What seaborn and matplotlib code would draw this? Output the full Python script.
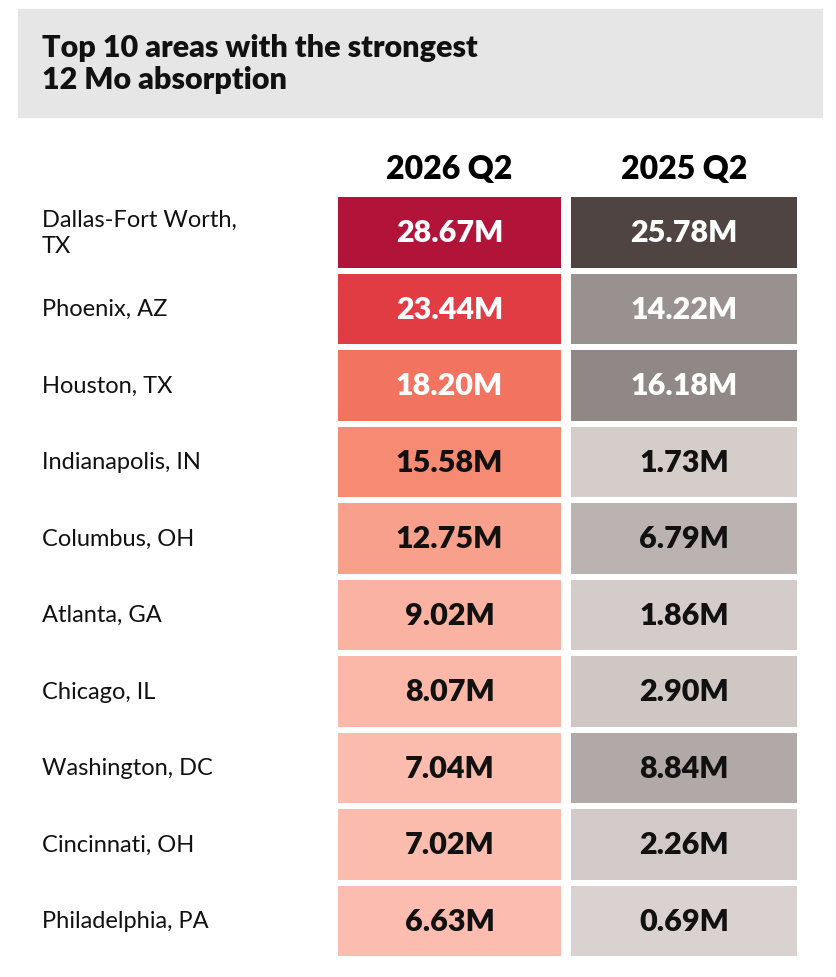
import numpy as np
import pandas as pd
import seaborn as sns
import matplotlib.pyplot as plt
from matplotlib.colors import LinearSegmentedColormap
from matplotlib.patches import Rectangle
from matplotlib.transforms import blended_transform_factory

areas = ["Dallas-Fort Worth,\nTX", "Phoenix, AZ", "Houston, TX", "Indianapolis, IN", "Columbus, OH",
         "Atlanta, GA", "Chicago, IL", "Washington, DC", "Cincinnati, OH", "Philadelphia, PA"]
q2_2026 = [28.67, 23.44, 18.20, 15.58, 12.75, 9.02, 8.07, 7.04, 7.02, 6.63]
q2_2025 = [25.78, 14.22, 16.18, 1.73, 6.79, 1.86, 2.90, 8.84, 2.26, 0.69]
columns = ["2026 Q2", "2025 Q2"]
title = "Top 10 areas with the strongest\n12 Mo absorption"

W, H = 836, 978
fig = plt.figure(figsize=(W/100, H/100), dpi=100)
fig.patches.append(Rectangle((18/W, 1-118/H), 804/W, 108/H, transform=fig.transFigure,
                             color="#E6E6E6", zorder=0))
fig.text(42/W, 1-64/H, title, fontsize=22, fontweight="heavy", family="Lato",
         va="center", ha="left", color="#111111", linespacing=1.2)

red = LinearSegmentedColormap.from_list("r", ["#FCBFB2", "#F9A893", "#F47A63", "#E33E45", "#B01238"])
grey = LinearSegmentedColormap.from_list("g", ["#DAD3D0", "#B0A8A6", "#8A8280", "#4E4240"])

bottom, top = 1-960/H, 1-195/H
specs = [(335, 229, q2_2026, red, 6, 29), (568, 232, q2_2025, grey, 0.5, 26)]
for i, (x, w, vals, cmap, vmin, vmax) in enumerate(specs):
    ax = fig.add_axes([x/W, bottom, w/W, top-bottom])
    df = pd.DataFrame({columns[i]: vals}, index=areas)
    sns.heatmap(df, ax=ax, cmap=cmap, vmin=vmin, vmax=vmax, cbar=False,
                annot=False, linewidths=3, linecolor="white")
    top3 = sorted(vals, reverse=True)[:3]
    for r, v in enumerate(vals):
        ax.text(0.5, r + 0.5, f"{v:.2f}M", ha="center", va="center",
                fontsize=22, fontweight="heavy", family="Lato",
                color="white" if v in top3 else "#111111")
    ax.xaxis.tick_top()
    ax.set_xticklabels([columns[i]], fontsize=23, fontweight="heavy", family="Lato")
    ax.tick_params(length=0, pad=8)
    ax.set_yticks([])
    ax.set_xlabel(""); ax.set_ylabel("")
    if i == 0:
        tr = blended_transform_factory(fig.transFigure, ax.transData)
        for r, name in enumerate(areas):
            ax.text(42/W, r + 0.5, name, transform=tr, ha="left", va="center",
                    fontsize=17, family="Lato", color="#111111", linespacing=1.3)

fig.savefig("out.png", dpi=100)
